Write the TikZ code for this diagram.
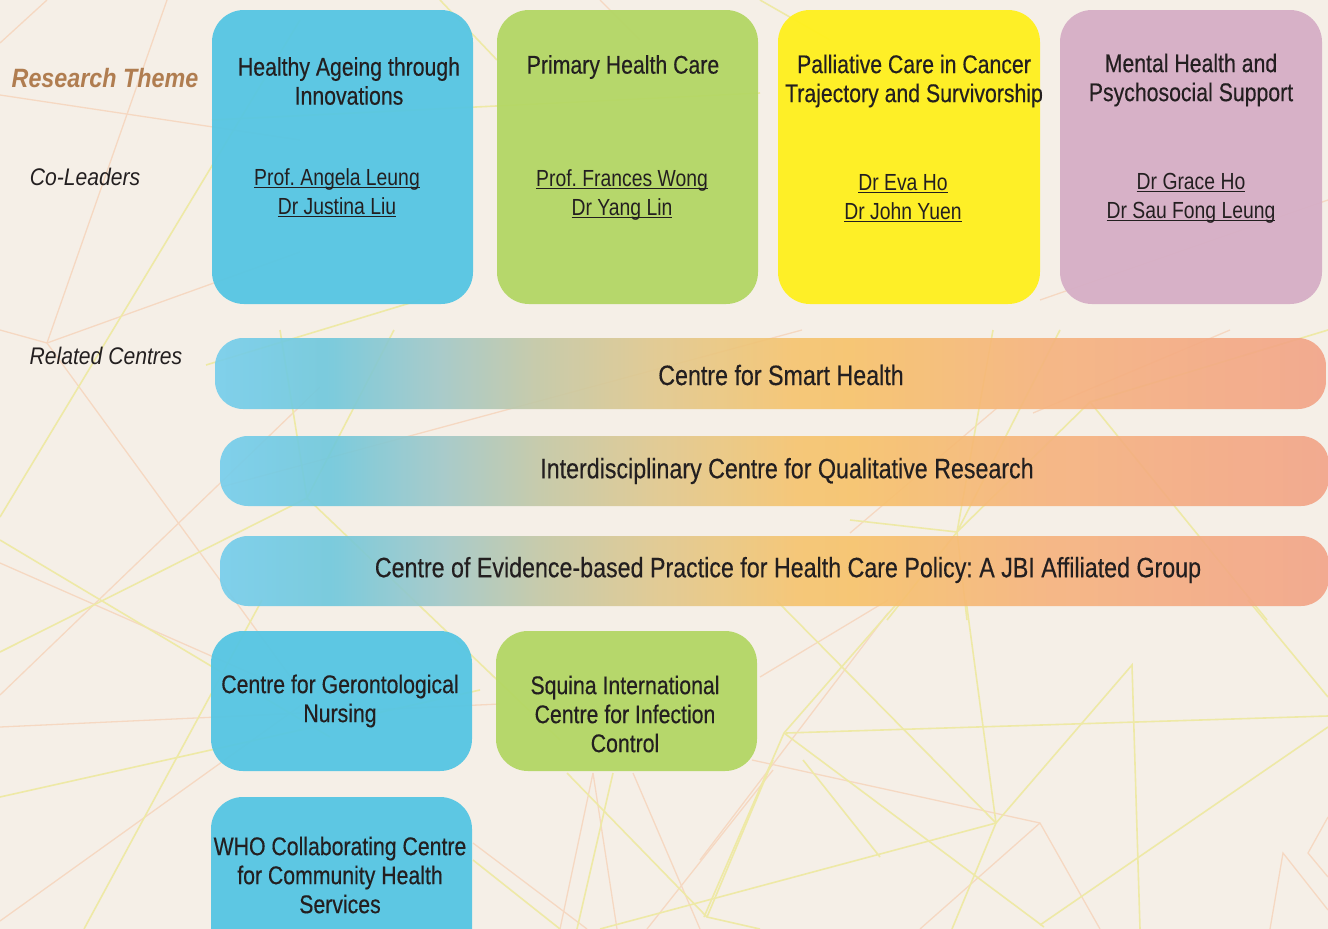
\documentclass[tikz,border=0pt]{standalone}
\usepackage{fontspec}
\setmainfont{Liberation Sans}
\newfontfamily\condf[FakeStretch=0.83,FakeBold=0.35]{Liberation Sans}
\newfontfamily\condl[FakeStretch=0.83]{Liberation Sans}
\newfontfamily\labf[FakeStretch=0.88]{Liberation Sans}
\frenchspacing
\definecolor{bgc}{RGB}{245,239,231}
\definecolor{ylc}{RGB}{238,233,166}
\definecolor{plc}{RGB}{245,216,194}
\definecolor{tc}{RGB}{35,31,32}
\definecolor{rtc}{RGB}{176,125,80}
\definecolor{cblue}{RGB}{84,197,227}
\definecolor{cgreen}{RGB}{179,214,100}
\definecolor{cyellow}{RGB}{255,240,28}
\definecolor{cpink}{RGB}{214,174,198}
\definecolor{g0}{RGB}{116,205,236}
\definecolor{g1}{RGB}{110,200,220}
\definecolor{g2}{RGB}{160,200,200}
\definecolor{g3}{RGB}{195,200,165}
\definecolor{g4}{RGB}{225,200,140}
\definecolor{g5}{RGB}{245,195,110}
\definecolor{g6}{RGB}{247,194,105}
\definecolor{g7}{RGB}{245,178,125}
\definecolor{g8}{RGB}{242,163,135}
\pgfdeclarehorizontalshading{barshade}{100bp}{color(0bp)=(g0); color(25bp)=(g0); color(30bp)=(g1); color(35bp)=(g2); color(39.5bp)=(g3); color(45bp)=(g4); color(51bp)=(g5); color(53.5bp)=(g6); color(62.5bp)=(g7); color(75bp)=(g8); color(100bp)=(g8)}
\newcommand\myul[1]{\setbox0\hbox{#1}\rlap{\rule[-2.8pt]{\wd0}{1.1pt}}\box0}
\begin{document}
\begin{tikzpicture}[x=1pt,y=-1pt,
  bx/.style={rounded corners=32pt, inner sep=0pt, draw=none, fill opacity=0.94},
  barbox/.style={rounded corners=28pt, inner sep=0pt, draw=none, shade, shading=barshade, fill opacity=0.9},
  tt/.style={font=\condf\fontsize{25.6}{29}\selectfont, align=center, text=tc, inner sep=0pt},
  nm/.style={font=\condl\fontsize{23.3}{29}\selectfont, align=center, text=tc, inner sep=0pt},
  bt/.style={font=\condf\fontsize{28}{32}\selectfont, text=tc, inner sep=0pt},
  lab/.style={font=\labf\itshape\fontsize{24}{28}\selectfont, text=tc, inner sep=0pt},
  yl/.style={draw=ylc, line width=1.6pt},
  pl/.style={draw=plc, line width=1.3pt}]
\fill[bgc] (0,0) rectangle (1328,929);
\useasboundingbox (0,0) rectangle (1328,929);
\begin{scope}
\clip (0,0) rectangle (1328,929);
% background network: peach
\draw[pl] (0,43) -- (47,0);
\draw[pl] (0,95) -- (213,127) -- (300,140);
\draw[pl] (167,0) -- (47,343) -- (0,330);
\draw[pl] (47,343) -- (300,252);
\draw[pl] (47,343) -- (220,580) -- (300,690);
\draw[pl] (0,563) -- (300,695);
\draw[pl] (0,695) -- (320,387);
\draw[pl] (0,727) -- (500,704);
\draw[pl] (0,921) -- (300,706);
\draw[pl] (221,487) -- (802,330);
\draw[pl] (1033,413) -- (1230,330);
\draw[pl] (997,408) -- (850,533);
\draw[pl] (593,773) -- (560,929);
\draw[pl] (593,773) -- (617,929);
\draw[pl] (633,773) -- (700,929);
\draw[pl] (647,929) -- (773,770);
\draw[pl] (473,843) -- (587,929);
\draw[pl] (752,760) -- (1040,823) -- (1100,929);
\draw[pl] (1040,823) -- (920,929);
\draw[pl] (760,677) -- (888,600);
\draw[pl] (700,860) -- (888,613);
\draw[pl] (1270,929) -- (1283,853) -- (1328,910);
\draw[pl] (1328,817) -- (1308,853) -- (1328,877);
\draw[pl] (600,0) -- (640,40);
\draw[pl] (1040,300) -- (1328,200);
% background network: yellow
\draw[yl] (0,517) -- (300,20);
\draw[yl] (0,540) -- (330,737);
\draw[yl] (0,652) -- (307,498);
\draw[yl] (307,498) -- (560,740);
\draw[yl] (280,330) -- (307,498) -- (394,330);
\draw[yl] (0,797) -- (480,690);
\draw[yl] (84,929) -- (262,600);
\draw[yl] (206,365) -- (420,300);
\draw[yl] (212,120) -- (760,93);
\draw[yl] (567,773) -- (707,917) -- (760,929);
\draw[yl] (613,773) -- (577,929);
\draw[yl] (773,760) -- (707,917);
\draw[yl] (803,760) -- (880,857);
\draw[yl] (473,860) -- (560,929);
\draw[yl] (600,929) -- (996,823);
\draw[yl] (786,733) -- (1328,716);
\draw[yl] (996,823) -- (1132,665) -- (1140,929);
\draw[yl] (996,823) -- (952,929);
\draw[yl] (996,823) -- (966,600);
\draw[yl] (776,600) -- (996,823);
\draw[yl] (784,733) -- (1044,927);
\draw[yl] (784,733) -- (900,600);
\draw[yl] (784,733) -- (704,917);
\draw[yl] (1040,925) -- (1328,727);
\draw[yl] (1248,600) -- (1328,697);
\draw[yl] (957,532) -- (850,520);
\draw[yl] (957,532) -- (1090,402) -- (1328,330);
\draw[yl] (1090,402) -- (1267,620);
\draw[yl] (957,532) -- (1060,330);
\draw[yl] (957,532) -- (967,620);
\draw[yl] (957,532) -- (993,330);
\draw[yl] (957,532) -- (887,620);
\draw[yl] (440,0) -- (497,60);
\draw[yl] (760,0) -- (830,40);
% research theme boxes
\node[bx, fill=cblue, minimum width=261pt, minimum height=294pt] (t1) at (342.5,157) {};
\node[bx, fill=cgreen, minimum width=261pt, minimum height=294pt] (t2) at (627.5,157) {};
\node[bx, fill=cyellow, minimum width=262pt, minimum height=294pt] (t3) at (909,157) {};
\node[bx, fill=cpink, minimum width=262pt, minimum height=294pt] (t4) at (1191,157) {};
\node[tt] (t1title) at (349,81) {Healthy Ageing through\\Innovations};
\node[nm] (t1names) at (337,193) {\myul{Prof. Angela Leung}\\\myul{Dr Justina Liu}};
\node[tt] (t2title) at (623,67) {Primary Health Care};
\node[nm] (t2names) at (622,195) {\myul{Prof. Frances Wong}\\\myul{Dr Yang Lin}};
\node[tt] (t3title) at (914,81) {Palliative Care in Cancer\\Trajectory and Survivorship};
\node[nm] (t3names) at (903,198) {\myul{Dr Eva Ho}\\\myul{Dr John Yuen}};
\node[tt] (t4title) at (1191,80) {Mental Health and\\Psychosocial Support};
\node[nm] (t4names) at (1191,198) {\myul{Dr Grace Ho}\\\myul{Dr Sau Fong Leung}};
% related centres bars
\node[barbox, minimum width=1111pt, minimum height=71pt] (r1) at (770.5,373.5) {};
\node[barbox, minimum width=1109pt, minimum height=70pt] (r2) at (774.5,471) {};
\node[barbox, minimum width=1109pt, minimum height=70pt] (r3) at (774.5,571) {};
\node[bt] (r1text) at (781,375) {Centre for Smart Health};
\node[bt] (r2text) at (787,471) {Interdisciplinary Centre for Qualitative Research};
\node[bt] (r3text) at (788,570) {Centre of Evidence-based Practice for Health Care Policy: A JBI Affiliated Group};
% lower centres
\node[bx, fill=cblue, minimum width=261pt, minimum height=140pt] (c1) at (341.5,701) {};
\node[bx, fill=cgreen, minimum width=261pt, minimum height=140pt] (c2) at (626.5,701) {};
\node[bx, fill=cblue, minimum width=261pt, minimum height=170pt] (c3) at (341.5,882) {};
\node[tt] (c1text) at (340,701) {Centre for Gerontological\\Nursing};
\node[tt] (c2text) at (625,714) {Squina International\\Centre for Infection\\Control};
\node[tt] (c3text) at (340,875) {WHO Collaborating Centre\\for Community Health\\Services};
% row labels
\node[lab, font=\labf\bfseries\itshape\fontsize{26.5}{30}\selectfont, text=rtc] (lrt) at (105,78) {Research Theme};
\node[lab] (lcl) at (85,177) {Co-Leaders};
\node[lab] (lrc) at (106,356) {Related Centres};
\end{scope}
\end{tikzpicture}
\end{document}
